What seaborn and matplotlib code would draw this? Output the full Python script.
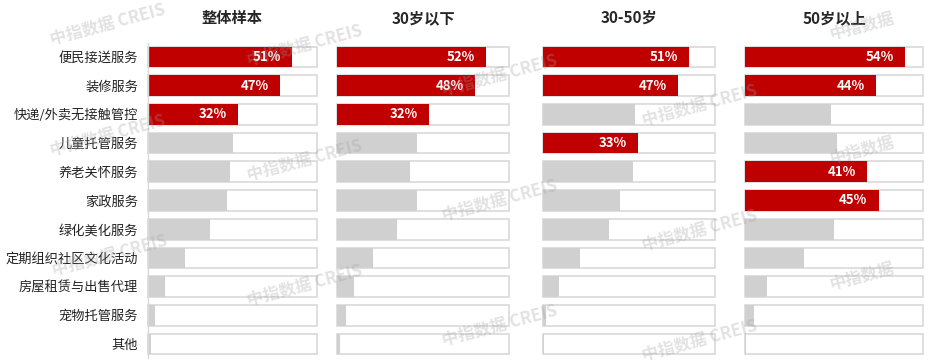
import numpy as np
import pandas as pd
import seaborn as sns
import matplotlib.pyplot as plt

sns.set_theme(style='white')
plt.rcParams['font.family'] = ['Noto Sans CJK SC', 'DejaVu Sans']

# ---------------- data ----------------
cats = ['便民接送服务', '装修服务', '快递/外卖无接触管控', '儿童托管服务', '养老关怀服务',
        '家政服务', '绿化美化服务', '定期组织社区文化活动', '房屋租赁与出售代理',
        '宠物托管服务', '其他']
groups = ['整体样本', '30岁以下', '30-50岁', '50岁以上']

total = [51, 47, 32, 30, 29, 28, 22, 13, 6, 2.5, 1]
under30 = [52, 48, 32, 28, 25.5, 28, 21, 12.5, 6, 3, 1]
age30_50 = [51, 47, 32, 33, 31.5, 27, 23, 13, 5.5, 1, 0.3]
over50 = [54, 44, 29, 31, 41, 45, 30, 20, 7.5, 3, 0.5]

# rows shown in red in each panel
hi_total = [0, 1, 2]
hi_under30 = [0, 1, 2]
hi_30_50 = [0, 1, 3]
hi_over50 = [0, 1, 4, 5]

box_max = 60  # the outline box runs to 60%

series = [total, under30, age30_50, over50]
highlights = [hi_total, hi_under30, hi_30_50, hi_over50]

RED = '#C00000'
GREY = '#D0D0D0'
EDGE = '#D9D9D9'

fig = plt.figure(figsize=(9.32, 3.64), dpi=100)
W, H = 932, 364

# panel extents in pixels (left, right)
panels_px = [(148, 317), (337, 509), (543, 715), (745, 923)]
top_px, bot_px = 42.6, 358.4

for k, (vals, hi, name) in enumerate(zip(series, highlights, groups)):
    l, r = panels_px[k]
    ax = fig.add_axes([l / W, 1 - bot_px / H, (r - l) / W, (bot_px - top_px) / H])
    df = pd.DataFrame({'cat': cats, 'val': vals,
                       'box': [box_max] * len(cats),
                       'hl': ['hi' if i in hi else 'lo' for i in range(len(cats))]})

    # outline boxes
    sns.barplot(data=df, x='box', y='cat', color='white', edgecolor=EDGE,
                linewidth=1.2, width=0.72, saturation=1, ax=ax)
    # value bars
    sns.barplot(data=df, x='val', y='cat', hue='hl', palette={'hi': RED, 'lo': GREY},
                dodge=False, legend=False, width=0.72, linewidth=0, saturation=1, ax=ax)
    for p in ax.patches:
        p.set_clip_on(False)

    for i in hi:
        ax.annotate(f'{vals[i]:g}%', (vals[i], i), xytext=(-8, 0),
                    textcoords='offset points', ha='right', va='center',
                    color='white', fontsize=9.5, fontweight='bold')

    ax.set_xlim(0, box_max)
    ax.set_ylim(len(cats) - 0.5, -0.5)
    ax.set_xlabel('')
    ax.set_ylabel('')
    ax.set_xticks([])
    ax.set_title(name, fontsize=11, fontweight='bold', pad=14)
    for s in ['top', 'right', 'bottom']:
        ax.spines[s].set_visible(False)
    if k == 0:
        ax.spines['left'].set_color(EDGE)
        ax.spines['left'].set_linewidth(1)
        ax.tick_params(axis='y', length=0, pad=7, labelsize=9.5, labelcolor='#222222')
    else:
        ax.spines['left'].set_visible(False)
        ax.set_yticks([])

# watermark
wm = [(108, 24), (108, 135), (110, 255),
      (305, 45), (305, 160), (305, 285),
      (500, 75), (500, 200), (500, 325),
      (700, 105), (700, 230), (700, 340)]
for x, y in wm:
    fig.text(x / W, 1 - y / H, '中指数据 CREIS', fontsize=12, fontweight='bold',
             color='#a0a0a0', alpha=0.3, rotation=15, ha='center', va='center', zorder=10)
for x, y in [(862, 26), (862, 150), (862, 276)]:
    fig.text(x / W, 1 - y / H, '中指数据', fontsize=12, fontweight='bold',
             color='#a0a0a0', alpha=0.3, rotation=15, ha='center', va='center', zorder=10)

fig.savefig('out.png', dpi=100)
